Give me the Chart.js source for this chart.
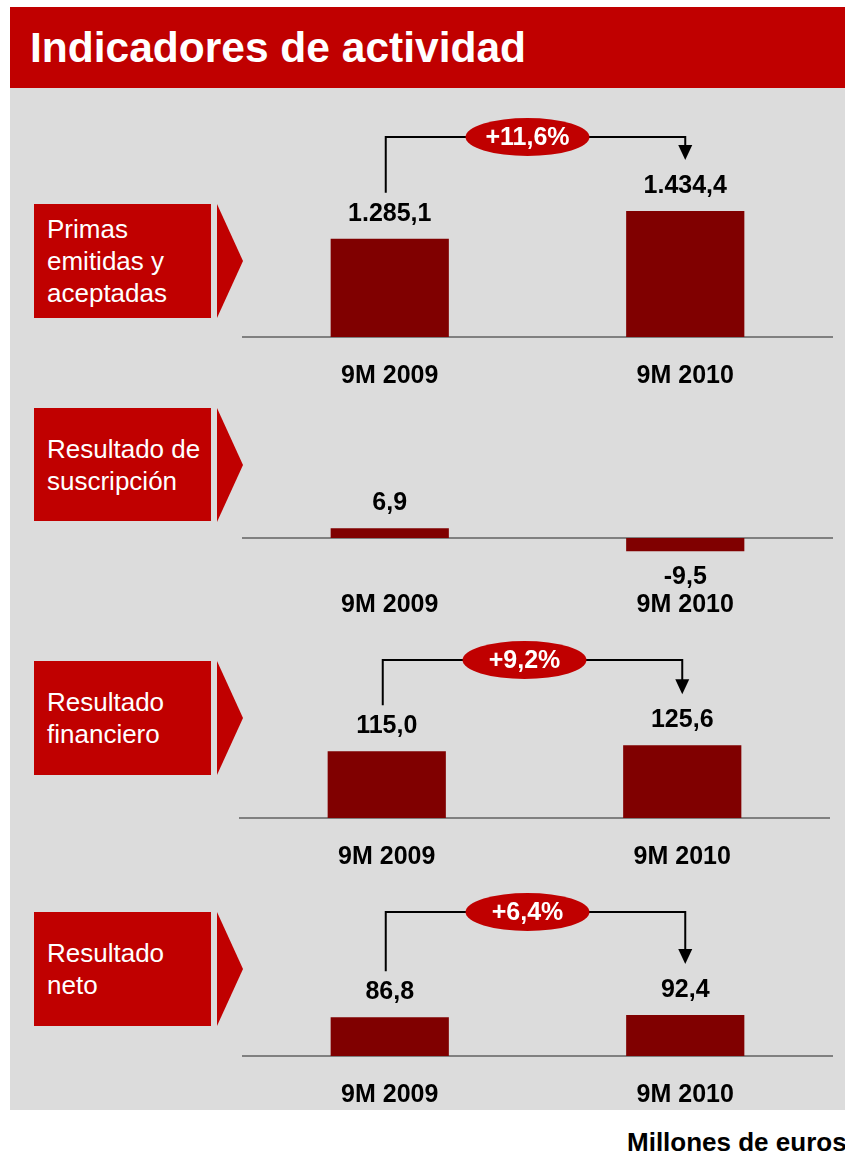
<!DOCTYPE html>
<html>
<head>
<meta charset="utf-8">
<script src="https://cdn.jsdelivr.net/npm/chart.js@4/dist/chart.umd.min.js"></script>
<style>
  html, body { margin: 0; padding: 0; width: 845px; height: 1154px; overflow: hidden; background: #fff; font-family: "Liberation Sans", Arial, sans-serif; }
  .abs { position: absolute; }
  #header { left: 10px; top: 7px; width: 835px; height: 81px; background: #c00000; color: #fff; font-weight: bold; font-size: 42.5px; line-height: 81px; padding-left: 20px; box-sizing: border-box; }
  #panel { left: 10px; top: 88px; width: 835px; height: 1022px; background: #dcdcdc; }
  .tag { left: 34px; width: 177px; background: #c00000; color: #fff; font-size: 26px; line-height: 32px; padding-left: 13px; box-sizing: border-box; display: flex; flex-direction: column; justify-content: center; white-space: nowrap; }
  .tip { left: 217px; width: 0; height: 0; border-left: 26px solid #c00000; border-top: 57px solid transparent; border-bottom: 57px solid transparent; }
  #units { left: 627px; top: 1128px; font-weight: bold; font-size: 26px; line-height: 28px; white-space: nowrap; }
  canvas { position: absolute; }
</style>
</head>
<body>
<div id="header" class="abs">Indicadores de actividad</div>
<div id="panel" class="abs"></div>

<div class="abs tag" style="top:204px;height:114px">Primas<br>emitidas y<br>aceptadas</div>
<div class="abs tip" style="top:204px"></div>
<div class="abs tag" style="top:408px;height:113px">Resultado de<br>suscripción</div>
<div class="abs tip" style="top:408px"></div>
<div class="abs tag" style="top:661px;height:114px">Resultado<br>financiero</div>
<div class="abs tip" style="top:661px"></div>
<div class="abs tag" style="top:912px;height:114px">Resultado<br>neto</div>
<div class="abs tip" style="top:912px"></div>

<canvas id="primas" width="591" height="297" style="left:242px;top:100px"></canvas>
<canvas id="suscripcion" width="591" height="186" style="left:242px;top:440px"></canvas>
<canvas id="financiero" width="591" height="255" style="left:239px;top:623px"></canvas>
<canvas id="neto" width="591" height="241" style="left:242px;top:875px"></canvas>

<div id="units" class="abs">Millones de euros</div>

<script>
// datos (millones de euros)
var categories = ["9M 2009", "9M 2010"];
var primas = [1285.1, 1434.4];
var suscripcion = [6.9, -9.5];
var financiero = [115.0, 125.6];
var neto = [86.8, 92.4];
// variación interanual, tal como aparece en el gráfico
var variacion = ["+11,6%", null, "+9,2%", "+6,4%"];

var FONT = '"Liberation Sans", Arial, sans-serif';

// 1285.1 -> "1.285,1"
function fmt(v) {
  var s = Math.abs(v).toFixed(1).split(".");
  var ent = s[0].replace(/\B(?=(\d{3})+(?!\d))/g, ".");
  return (v < 0 ? "-" : "") + ent + "," + s[1];
}

var panelPlugin = {
  id: 'panel',
  beforeDatasetsDraw: function(chart) {
    var ctx = chart.ctx, area = chart.chartArea, y = chart.scales.y;
    var y0 = y.getPixelForValue(Math.max(0, y.min));
    ctx.save();
    ctx.strokeStyle = '#808080';
    ctx.lineWidth = 2;
    ctx.beginPath();
    ctx.moveTo(area.left, y0);
    ctx.lineTo(area.right, y0);
    ctx.stroke();
    ctx.restore();
  },
  afterDatasetsDraw: function(chart, args, opts) {
    var ctx = chart.ctx, area = chart.chartArea;
    var meta = chart.getDatasetMeta(0);
    var values = chart.data.datasets[0].data;
    var labelY = [];
    ctx.save();
    ctx.fillStyle = '#000';
    ctx.textAlign = 'center';
    ctx.textBaseline = 'middle';
    meta.data.forEach(function(bar, i) {
      var v = values[i];
      var ly = v >= 0 ? bar.y - 25 : bar.y + 26;
      labelY.push(ly);
      ctx.font = 'bold 25px ' + FONT;
      ctx.fillText(fmt(v), bar.x, ly);
      ctx.fillText(chart.data.labels[i], bar.x, area.bottom + 39);
    });

    if (opts.texto) {
      var x1 = meta.data[0].x, x2 = meta.data[1].x;
      var by = 37;
      var tipY = labelY[1] - 26;
      ctx.strokeStyle = '#000';
      ctx.lineWidth = 2;
      ctx.beginPath();
      ctx.moveTo(x1 - 4, labelY[0] - 21);
      ctx.lineTo(x1 - 4, by);
      ctx.lineTo(x2, by);
      ctx.lineTo(x2, tipY - 14);
      ctx.stroke();
      ctx.fillStyle = '#000';
      ctx.beginPath();
      ctx.moveTo(x2 - 7, tipY - 15);
      ctx.lineTo(x2 + 7, tipY - 15);
      ctx.lineTo(x2, tipY);
      ctx.closePath();
      ctx.fill();

      var cx = (x1 + x2) / 2 - 10;
      ctx.fillStyle = '#c00000';
      ctx.beginPath();
      ctx.ellipse(cx, by, 62, 19, 0, 0, Math.PI * 2);
      ctx.fill();
      ctx.fillStyle = '#fff';
      ctx.font = 'bold 25px ' + FONT;
      ctx.fillText(opts.texto, cx, by + 1);
    }
    ctx.restore();
  }
};

function makeChart(id, values, yMin, yMax, pad, texto) {
  return new Chart(document.getElementById(id), {
    type: 'bar',
    data: {
      labels: categories,
      datasets: [{
        data: values,
        backgroundColor: '#800000',
        borderWidth: 0,
        barPercentage: 0.4,
        categoryPercentage: 1.0
      }]
    },
    options: {
      responsive: false,
      animation: false,
      devicePixelRatio: 1,
      layout: { padding: { top: pad[0], bottom: pad[1], left: 0, right: 0 } },
      plugins: {
        legend: { display: false },
        tooltip: { enabled: false },
        panel: { texto: texto }
      },
      scales: {
        x: { display: false },
        y: { display: false, min: yMin, max: yMax }
      }
    },
    plugins: [panelPlugin]
  });
}

makeChart("primas", primas, 760, 1760, [50, 60], variacion[0]);
makeChart("suscripcion", suscripcion, -20, 30, [56, 60], variacion[1]);
makeChart("financiero", financiero, 0, 200, [79, 60], variacion[2]);
makeChart("neto", neto, 0, 200, [92, 60], variacion[3]);
</script>
</body>
</html>
